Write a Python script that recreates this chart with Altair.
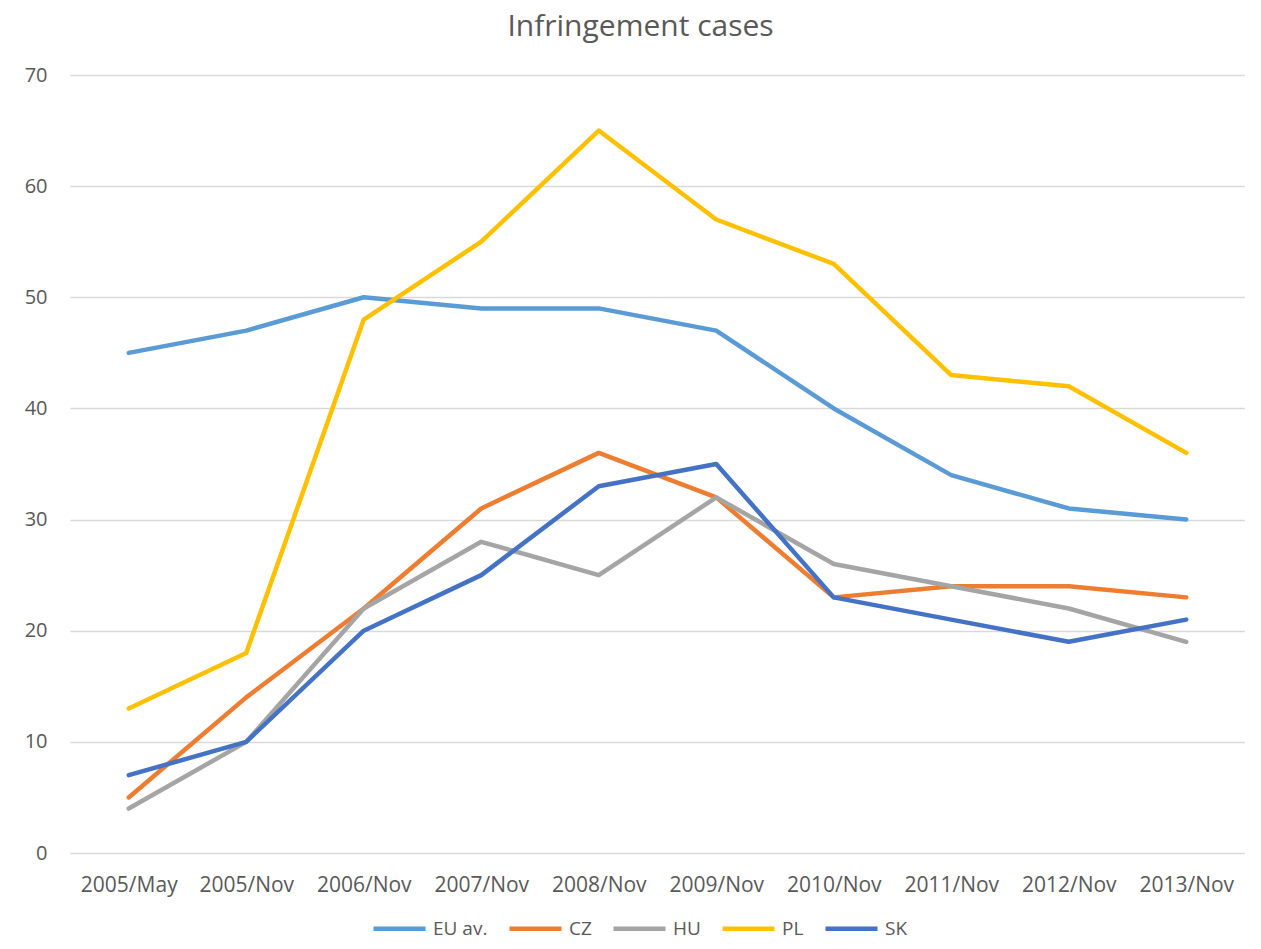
import altair as alt
import pandas as pd

categories = ["2005/May", "2005/Nov", "2006/Nov", "2007/Nov", "2008/Nov",
              "2009/Nov", "2010/Nov", "2011/Nov", "2012/Nov", "2013/Nov"]
series_names = ["EU av.", "CZ", "HU", "PL", "SK"]
eu_av = [45, 47, 50, 49, 49, 47, 40, 34, 31, 30]
cz = [5, 14, 22, 31, 36, 32, 23, 24, 24, 23]
hu = [4, 10, 22, 28, 25, 32, 26, 24, 22, 19]
pl = [13, 18, 48, 55, 65, 57, 53, 43, 42, 36]
sk = [7, 10, 20, 25, 33, 35, 23, 21, 19, 21]
colors = ["#5B9BD5", "#ED7D31", "#A5A5A5", "#FFC000", "#4472C4"]
y_ticks = [0, 10, 20, 30, 40, 50, 60, 70]

rows = []
for name, vals in zip(series_names, [eu_av, cz, hu, pl, sk]):
    for c, v in zip(categories, vals):
        rows.append({"period": c, "series": name, "value": v})
df = pd.DataFrame(rows)

FONT = "Open Sans"
TXT = "#595959"

chart = alt.Chart(df).mark_line(strokeWidth=4.5, strokeCap="round", strokeJoin="round").encode(
    x=alt.X("period:O", sort=categories, title=None,
            scale=alt.Scale(padding=0.5),
            axis=alt.Axis(labelAngle=0, domain=False, ticks=False, grid=False,
                          labelFont=FONT, labelFontSize=21, labelColor=TXT,
                          labelPadding=21)),
    y=alt.Y("value:Q", title=None,
            scale=alt.Scale(domain=[0, 70], nice=False, zero=True),
            axis=alt.Axis(values=y_ticks, domain=False, ticks=False,
                          gridColor="#D9D9D9", gridWidth=1.5,
                          labelFont=FONT, labelFontSize=20, labelColor=TXT,
                          labelPadding=23)),
    color=alt.Color("series:N", sort=series_names,
                    scale=alt.Scale(domain=series_names, range=colors),
                    legend=alt.Legend(title=None, orient="none", direction="horizontal",
                                      legendX=301, legendY=825,
                                      symbolType="stroke", symbolSize=2704,
                                      symbolStrokeWidth=4.5, labelFont=FONT,
                                      labelFontSize=19, labelColor=TXT,
                                      labelOffset=5, columnPadding=12)),
).properties(
    width=1175,
    height=778,
    background="white",
    title=alt.TitleParams("Infringement cases", font=FONT, fontSize=30,
                          fontWeight="normal", color=TXT, anchor="middle",
                          frame="group", dx=-17, offset=23),
    autosize=alt.AutoSizeParams(type="none"),
    padding={"left": 62, "top": 67, "right": 0, "bottom": 88},
).configure_view(stroke=None)

chart.save("out.html", embed_options={"renderer": "svg", "actions": False})
